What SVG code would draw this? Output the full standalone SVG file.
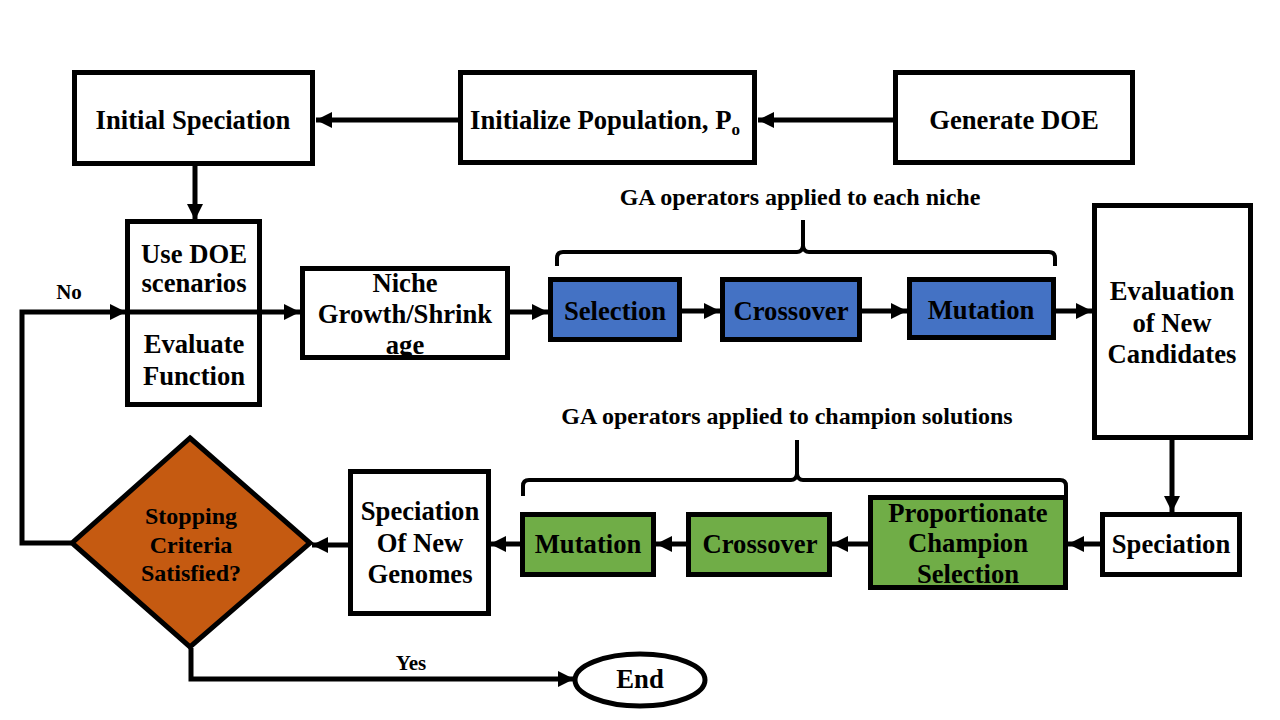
<svg xmlns="http://www.w3.org/2000/svg" width="1280" height="720" viewBox="0 0 1280 720">
<style>
.box{fill:#fff;stroke:#000;stroke-width:5}
.blue{fill:#4472C4;stroke:#000;stroke-width:5}
.green{fill:#70AD47;stroke:#000;stroke-width:5}
.dia{fill:#C55A11;stroke:#000;stroke-width:5}
.t{font-family:"Liberation Serif","Times New Roman",serif;font-weight:bold;font-size:26.67px;fill:#000;text-anchor:middle}
.s{font-family:"Liberation Serif","Times New Roman",serif;font-weight:bold;font-size:24px;fill:#000;text-anchor:middle}
.l{font-family:"Liberation Serif","Times New Roman",serif;font-weight:bold;font-size:21px;fill:#000;text-anchor:middle}
.c{fill:none;stroke:#000;stroke-width:5}
.br{fill:none;stroke:#000;stroke-width:4}
</style>
<defs>
<marker id="ah" markerUnits="userSpaceOnUse" markerWidth="16" markerHeight="16" viewBox="0 0 16 16" refX="16" refY="8" orient="auto">
<path d="M0,0 L16,8 L0,16 Z" fill="#000"/>
</marker>
</defs>
<rect width="1280" height="720" fill="#fff"/>
<g id="connectors">
<line class="c" x1="893" y1="120" x2="758" y2="120" marker-end="url(#ah)"/>
<line class="c" x1="458" y1="120" x2="316" y2="120" marker-end="url(#ah)"/>
<line class="c" x1="195" y1="166" x2="195" y2="220" marker-end="url(#ah)"/>
<polyline class="c" points="71,543 22,543 22,312 126,312" marker-end="url(#ah)"/>
<line class="c" x1="126" y1="312" x2="300" y2="312" marker-end="url(#ah)"/>
<line class="c" x1="510" y1="312" x2="548" y2="312" marker-end="url(#ah)"/>
<line class="c" x1="682" y1="311" x2="720" y2="311" marker-end="url(#ah)"/>
<line class="c" x1="862" y1="311" x2="907" y2="311" marker-end="url(#ah)"/>
<line class="c" x1="1056" y1="311" x2="1092" y2="311" marker-end="url(#ah)"/>
<line class="c" x1="1172" y1="440" x2="1172" y2="512" marker-end="url(#ah)"/>
<line class="c" x1="1100" y1="544" x2="1068" y2="544" marker-end="url(#ah)"/>
<line class="c" x1="868" y1="544" x2="832" y2="544" marker-end="url(#ah)"/>
<line class="c" x1="686" y1="544" x2="656" y2="544" marker-end="url(#ah)"/>
<line class="c" x1="520" y1="544" x2="490" y2="544" marker-end="url(#ah)"/>
<line class="c" x1="348" y1="545" x2="312" y2="545" marker-end="url(#ah)"/>
<polyline class="c" points="191,648 191,679 574,679" marker-end="url(#ah)"/>
<path class="br" d="M557,266 V258 Q557,252 563,252 H797 Q802,252 803,246 V220 M803,246 Q804,252 809,252 H1049 Q1055,252 1055,258 V266"/>
<path class="br" d="M523,496 V486 Q523,480 529,480 H791 Q796,480 797,474 V440 M797,474 Q798,480 803,480 H1060 Q1066,480 1066,486 V497"/>
</g>
<g id="initial-speciation"><rect class="box" x="74.5" y="72.5" width="238" height="91"/><text class="t" x="193" y="129">Initial Speciation</text></g>
<g id="initialize-population"><rect class="box" x="460.5" y="72.5" width="294" height="90"/><text class="t" x="605" y="129">Initialize Population, P<tspan font-size="17" dy="6">o</tspan></text></g>
<g id="generate-doe"><rect class="box" x="895.5" y="72.5" width="237" height="90"/><text class="t" x="1014" y="129">Generate DOE</text></g>
<g id="use-doe"><rect class="box" x="127.5" y="221.5" width="132" height="183"/><line x1="127" y1="312" x2="260" y2="312" stroke="#000" stroke-width="5"/><text class="t" x="194" y="263">Use DOE</text><text class="t" x="194" y="292">scenarios</text><text class="t" x="194" y="353">Evaluate</text><text class="t" x="194" y="385">Function</text></g>
<g id="niche"><rect class="box" x="302.5" y="268.5" width="205" height="89"/><text class="t" x="405" y="292">Niche</text><text class="t" x="405" y="323">Growth/Shrink</text><text class="t" x="405" y="354">age</text></g>
<g id="selection"><rect class="blue" x="550.5" y="279.5" width="129" height="60"/><text class="t" x="615" y="320">Selection</text></g>
<g id="crossover"><rect class="blue" x="722.5" y="279.5" width="137" height="60"/><text class="t" x="791" y="320">Crossover</text></g>
<g id="mutation"><rect class="blue" x="909.5" y="279.5" width="144" height="58"/><text class="t" x="981" y="319">Mutation</text></g>
<g id="evaluation"><rect class="box" x="1094.5" y="205.5" width="156" height="232"/><text class="t" x="1172" y="300">Evaluation</text><text class="t" x="1172" y="332">of New</text><text class="t" x="1172" y="363">Candidates</text></g>
<g id="speciation"><rect class="box" x="1102.5" y="514.5" width="137" height="60"/><text class="t" x="1171" y="553">Speciation</text></g>
<g id="prop-champion"><rect class="green" x="870.5" y="497.5" width="195" height="90"/><text class="t" x="968" y="522">Proportionate</text><text class="t" x="968" y="552">Champion</text><text class="t" x="968" y="583">Selection</text></g>
<g id="crossover2"><rect class="green" x="688.5" y="514.5" width="141" height="60"/><text class="t" x="760" y="553">Crossover</text></g>
<g id="mutation2"><rect class="green" x="522.5" y="514.5" width="131" height="60"/><text class="t" x="588" y="553">Mutation</text></g>
<g id="speciation-new"><rect class="box" x="350.5" y="471.5" width="138" height="142"/><text class="t" x="420" y="520">Speciation</text><text class="t" x="420" y="552">Of New</text><text class="t" x="420" y="583">Genomes</text></g>
<g id="stopping"><polygon class="dia" points="190,438 310,543 190,647 72,543"/><text class="s" x="191" y="524">Stopping</text><text class="s" x="191" y="553">Criteria</text><text class="s" x="191" y="581">Satisfied?</text></g>
<g id="end"><ellipse cx="640" cy="680" rx="65" ry="26" fill="#fff" stroke="#000" stroke-width="5"/><text class="t" x="640" y="688">End</text></g>
<g id="labels">
<text class="s" x="800" y="205">GA operators applied to each niche</text>
<text class="s" x="787" y="424">GA operators applied to champion solutions</text>
<text class="l" x="69" y="299">No</text>
<text class="l" x="411" y="670">Yes</text>
</g>
</svg>
